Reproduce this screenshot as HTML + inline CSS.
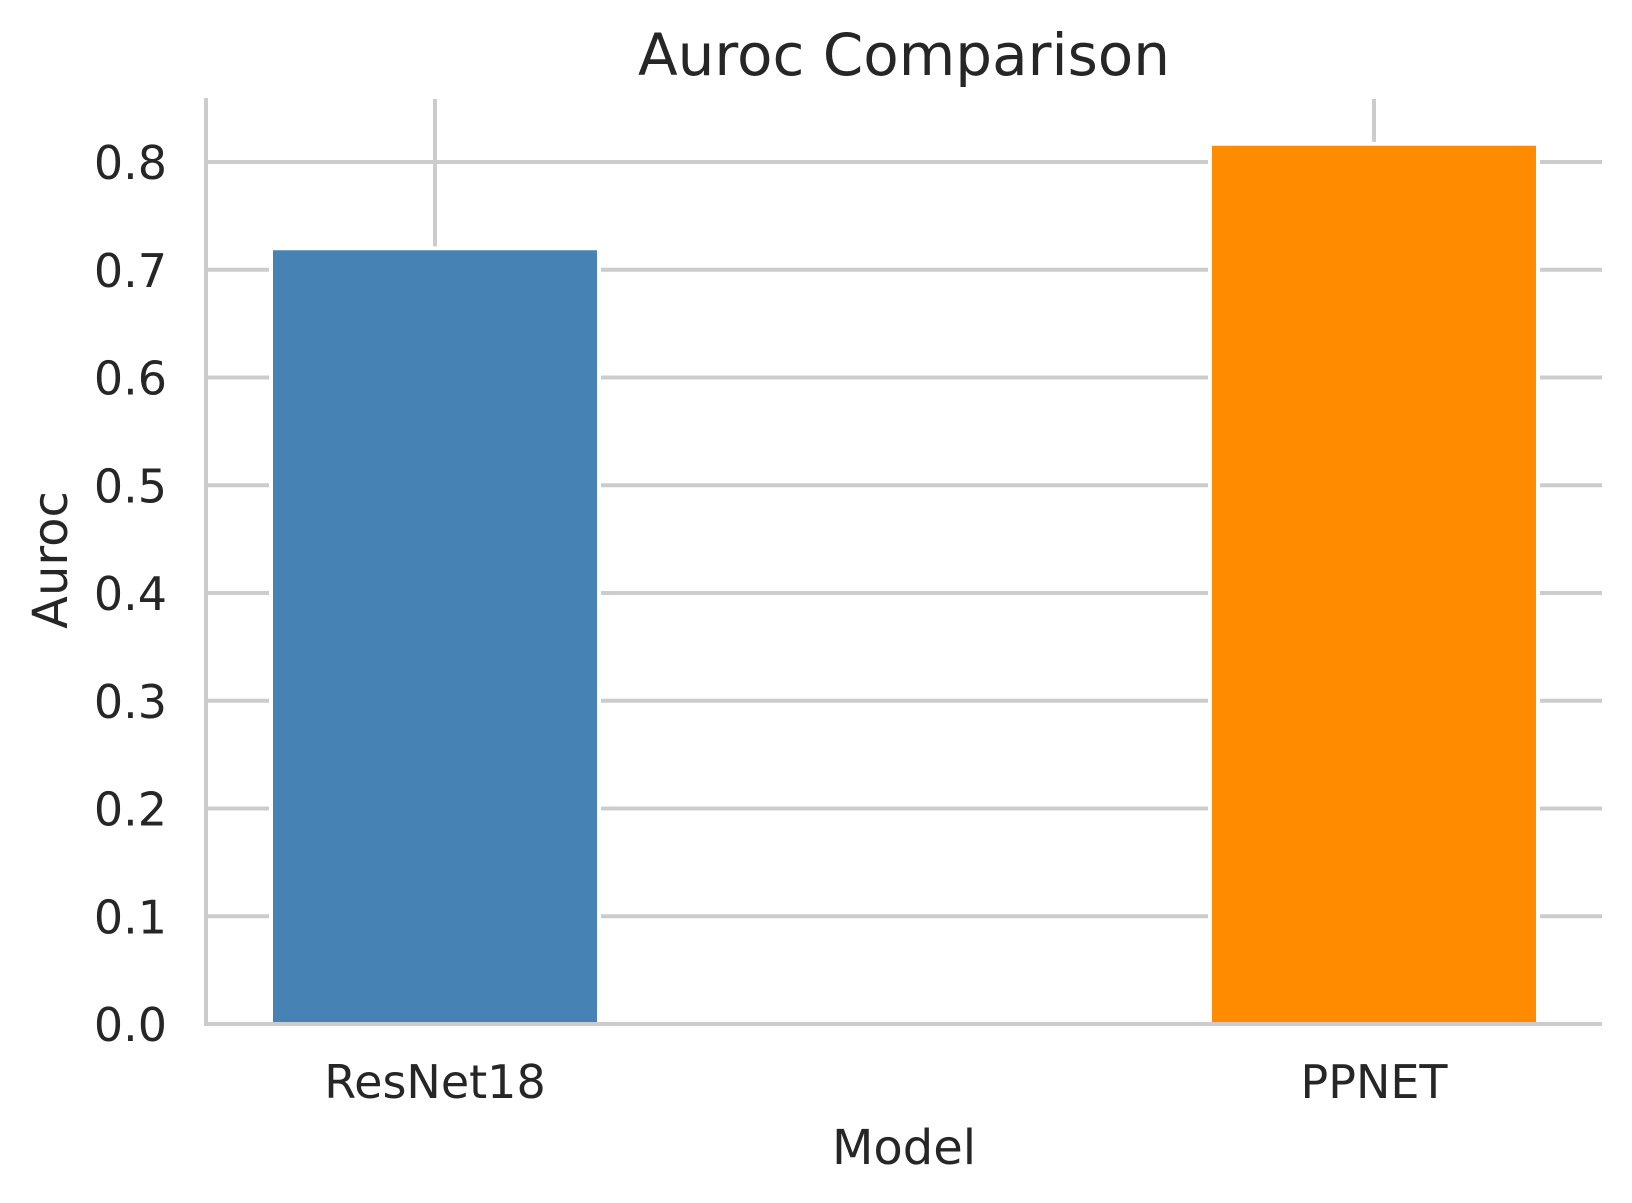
<!DOCTYPE html>
<html><head><meta charset="utf-8"><style>
html,body{margin:0;padding:0;background:#fff;}
svg{display:block;font-family:"DejaVu Sans","Liberation Sans",sans-serif;}
</style></head><body>
<svg id="chart" width="1632" height="1203" viewBox="0 0 1632 1203" xmlns="http://www.w3.org/2000/svg">
<rect width="1632" height="1203" fill="#fff"/>
<g id="grid"></g>
<g id="bars"></g>
<g id="spines"></g>
<g id="ticks"></g>
<text x="904" y="75" text-anchor="middle" font-size="58" fill="#262626">Auroc Comparison</text>
<text x="904" y="1164" text-anchor="middle" font-size="48" fill="#262626">Model</text>
<text transform="translate(67,560) rotate(-90)" text-anchor="middle" font-size="48" fill="#262626">Auroc</text>
</svg>
<script>
const categories = ["ResNet18", "PPNET"];
const values = [0.718, 0.815];
const colors = ["#4682b4", "#ff8c00"];
const yTicks = [0.0, 0.1, 0.2, 0.3, 0.4, 0.5, 0.6, 0.7, 0.8];

const NS = "http://www.w3.org/2000/svg";
const plotLeft = 206, plotRight = 1602, plotTop = 99, y0px = 1024, pxPerUnit = 1077.5;
const yScale = v => y0px - v * pxPerUnit;
const xFirst = 435, xStep = 939;
const xCenter = i => xFirst + i * xStep;
const barW = 324;

function mk(tag, attrs, parent) {
  const e = document.createElementNS(NS, tag);
  for (const k in attrs) e.setAttribute(k, attrs[k]);
  parent.appendChild(e);
  return e;
}
const grid = document.getElementById('grid');
const bars = document.getElementById('bars');
const spines = document.getElementById('spines');
const ticks = document.getElementById('ticks');

yTicks.forEach(t => {
  if (t === 0) return;
  const y = yScale(t);
  const l = mk('line', {x1: plotLeft, x2: plotRight, y1: y, y2: y, stroke: '#cccccc', 'stroke-width': 4}, grid);
  
  
});
categories.forEach((c, i) => {
  const x = xCenter(i);
  const l = mk('line', {x1: x, x2: x, y1: plotTop, y2: y0px, stroke: '#cccccc', 'stroke-width': 4}, grid);
  
  
});
categories.forEach((c, i) => {
  const x = xCenter(i);
  const top = yScale(values[i]);
  const r = mk('rect', {x: x - barW / 2, y: top, width: barW, height: y0px - top, fill: colors[i], stroke: '#fff', 'stroke-width': 8, 'paint-order': 'stroke'}, bars);
  
  
  const r2 = mk('rect', {x: x - barW / 2, y: top, width: barW, height: y0px - top - 3, fill: colors[i]}, bars);
  
  
  const t = mk('text', {x: x, y: 1098, 'text-anchor': 'middle', 'font-size': 46, fill: '#262626'}, ticks);
  t.textContent = c;
  
  
});
yTicks.forEach(v => {
  const t = mk('text', {x: 167, y: yScale(v) + 17, 'text-anchor': 'end', 'font-size': 46, fill: '#262626'}, ticks);
  t.textContent = v.toFixed(1);
  
  
});
const ls = mk('line', {x1: plotLeft, x2: plotLeft, y1: plotTop - 1, y2: y0px + 2, stroke: '#cccccc', 'stroke-width': 4}, spines);


const bs = mk('line', {x1: plotLeft - 2, x2: plotRight, y1: y0px, y2: y0px, stroke: '#cccccc', 'stroke-width': 4}, spines);


</script>
</body></html>
